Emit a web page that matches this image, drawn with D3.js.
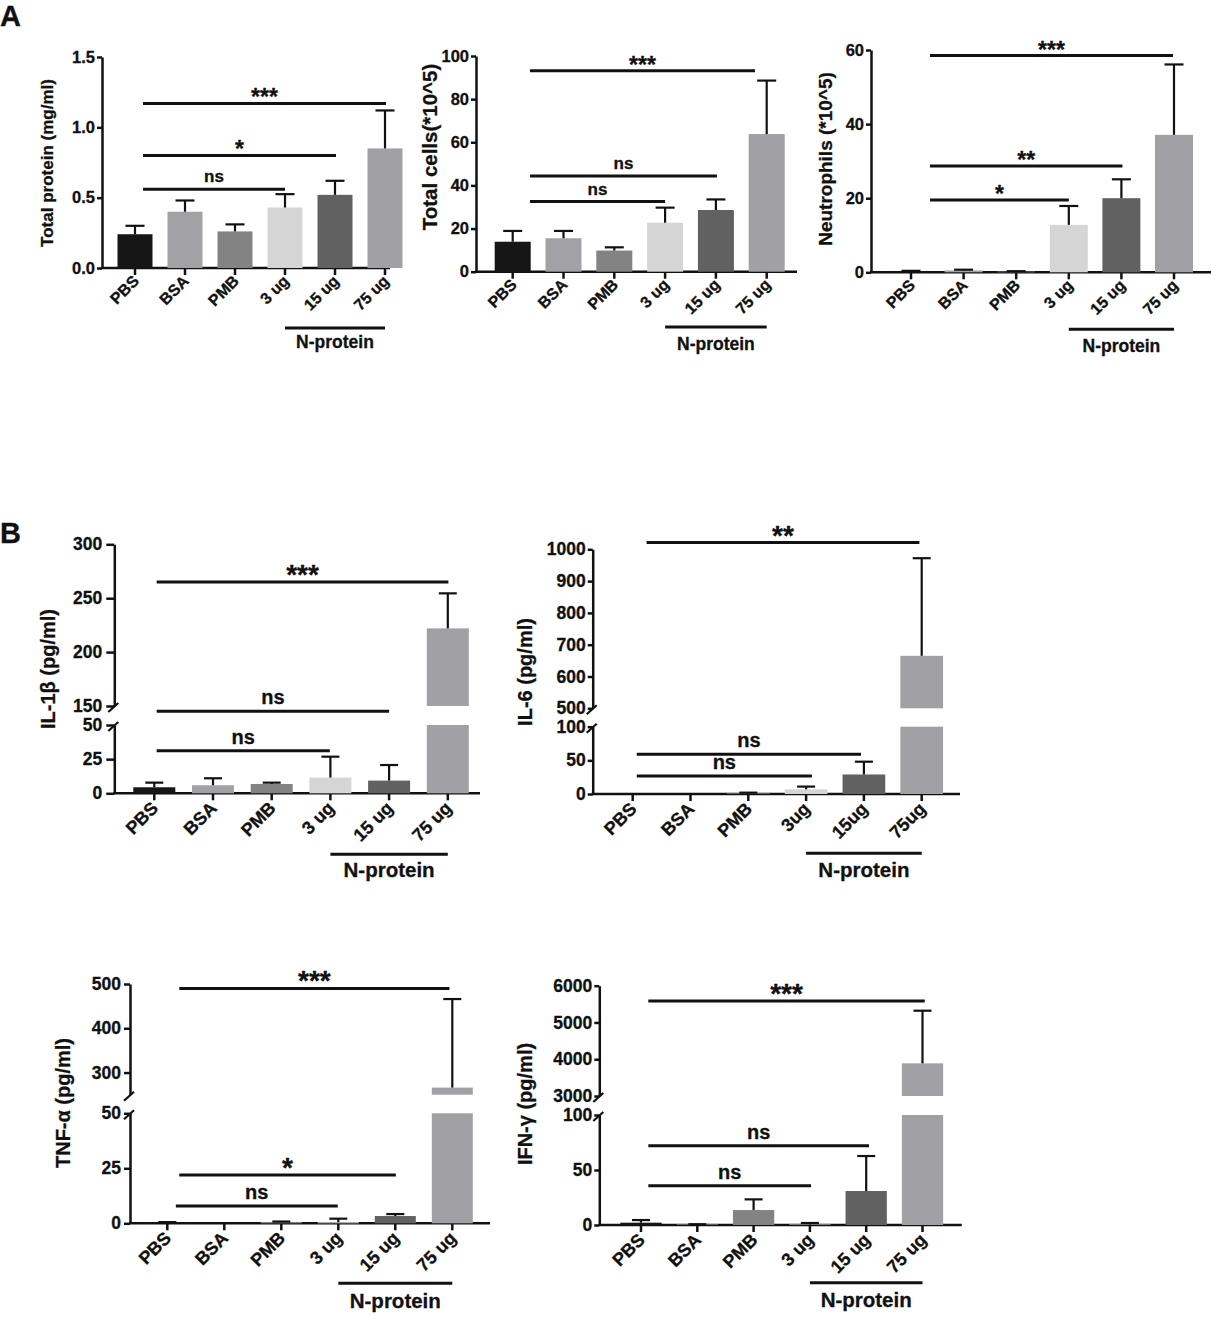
<!DOCTYPE html>
<html>
<head>
<meta charset="utf-8">
<script src="https://cdn.jsdelivr.net/npm/d3@7"></script>
<style>
  body { margin: 0; background: #fff; }
  text { font-family: Arial, "Liberation Sans", sans-serif; font-weight: bold; fill: #111; stroke: #111; stroke-width: 0.3px; }
</style>
</head>
<body>
<svg id="fig" width="1212" height="1319"></svg>
<script>
// ---- data ----
const groupLabels = ["PBS", "BSA", "PMB", "3 ug", "15 ug", "75 ug"];
const groupLabelsIL6 = ["PBS", "BSA", "PMB", "3ug", "15ug", "75ug"];
const nProteinSpan = [3, 5];   // groups underlined as "N-protein"

const totalProteinMean = [0.24, 0.40, 0.26, 0.43, 0.52, 0.85];
const totalProteinSD   = [0.06, 0.08, 0.05, 0.095, 0.10, 0.27];
const totalProteinSig  = [
  { from: 0.16, to: 5.02, y: 1.17, label: "***" },
  { from: 0.16, to: 4.02, y: 0.80, label: "*" },
  { from: 0.16, to: 3.0,  y: 0.56, label: "ns" }
];

const totalCellsMean = [13.9, 15.5, 9.8, 22.7, 28.6, 63.8];
const totalCellsSD   = [5.0, 3.4, 1.5, 7.0, 4.9, 24.8];
const totalCellsSig  = [
  { from: 0.34, to: 4.77, y: 93.2, label: "***" },
  { from: 0.34, to: 4.02, y: 44.4, label: "ns" },
  { from: 0.34, to: 3.0,  y: 32.5, label: "ns" }
];

const neutrophilsMean = [0.3, 0.5, 0.2, 12.8, 20.0, 37.1];
const neutrophilsSD   = [0.1, 0.2, 0.1, 5.1, 5.1, 19.0];
const neutrophilsSig  = [
  { from: 0.36, to: 4.98, y: 58.5, label: "***" },
  { from: 0.36, to: 4.02, y: 28.7, label: "**" },
  { from: 0.36, to: 3.0,  y: 19.5, label: "*" }
];

const il1bMean = [4.4, 5.9, 6.8, 11.5, 9.3, 222];
const il1bSD   = [3.4, 5.1, 1.0, 15.3, 11.4, 32.5];
const il1bSig  = [
  { from: 0.04, to: 5.01, y: 265, label: "***" },
  { from: 0.04, to: 4.0,  y: 122, label: "ns" },
  { from: 0.04, to: 2.99, y: 31.2, label: "ns" }
];

const il6Mean = [0, 0, 1, 7, 29, 665];
const il6SD   = [0, 0, 1, 4, 19, 307];
const il6Sig  = [
  { from: 0.24, to: 4.96, y: 1021, label: "**" },
  { from: 0.07, to: 3.95, y: 59, label: "ns" },
  { from: 0.07, to: 3.1,  y: 26.7, label: "ns" }
];

const tnfMean = [0.45, 0, 0.6, 0.5, 3.3, 266];
const tnfSD   = [0.1, 0, 0.2, 1.6, 0.9, 200];
const tnfSig  = [
  { from: 0.21, to: 4.95, y: 490, label: "***" },
  { from: 0.21, to: 4.01, y: 22, label: "*" },
  { from: 0.15, to: 2.99, y: 7.9, label: "ns" }
];

const ifngMean = [2.1, 0.5, 13.6, 0.5, 30.9, 3888];
const ifngSD   = [2.4, 0.2, 9.7, 1.3, 31.8, 1432];
const ifngSig  = [
  { from: 0.13, to: 5.04, y: 5584, label: "***" },
  { from: 0.13, to: 4.05, y: 72.1, label: "ns" },
  { from: 0.13, to: 3.02, y: 35.7, label: "ns" }
];

// ---- styles ----
const barColors = ["#161616", "#a2a2a6", "#838383", "#d5d5d5", "#616161", "#a0a0a5"];
const ink = "#111";

const svg = d3.select("#fig");

// panel letters
svg.append("text").attr("x", 0).attr("y", 26).style("font-size", "29px").text("A");
svg.append("text").attr("x", 0).attr("y", 543).style("font-size", "29px").text("B");

// font sizes shared by the top row (A) and the cytokine panels (B)
const fontA = { font: 16.5, labelFont: 16, nFont: 17.5, nsFont: 17, starFont: 23, cap: 19, lab: [5, 14] };
const fontB = { font: 17.5, labelFont: 18, nFont: 20.5, nsFont: 20, starFont: 28, cap: 18, lab: [5, 16] };

const panels = [
  { title: "Total protein (mg/ml)", labels: groupLabels, mean: totalProteinMean, sd: totalProteinSD, sig: totalProteinSig,
    domain: [0, 1.5], range: [268, 57], ticks: [0, 0.5, 1, 1.5], fmt: d3.format(".1f"),
    ax: 102, axEnd: 390, c0: 135, step: 50, bw: 35, tickLen: 5, tickPad: 2,
    titleX: 47, titleY: 163, titleSize: 17, nLine: 60, nText: 20, ...fontA },
  { title: "Total cells(*10^5)", labels: groupLabels, mean: totalCellsMean, sd: totalCellsSD, sig: totalCellsSig,
    domain: [0, 100], range: [271.7, 56], ticks: [0, 20, 40, 60, 80, 100], fmt: d3.format("d"),
    ax: 476, axEnd: 797, c0: 512.7, step: 50.8, bw: 36, tickLen: 5, tickPad: 2,
    titleX: 430, titleY: 147, titleSize: 20.5, nLine: 55.3, nText: 23, ...fontA },
  { title: "Neutrophils (*10^5)", labels: groupLabels, mean: neutrophilsMean, sd: neutrophilsSD, sig: neutrophilsSig,
    domain: [0, 60], range: [272.3, 50], ticks: [0, 20, 40, 60], fmt: d3.format("d"),
    ax: 871, axEnd: 1211, c0: 911, step: 52.6, bw: 38, tickLen: 5, tickPad: 2,
    titleX: 825, titleY: 159, titleSize: 19, nLine: 57, nText: 22.4, ...fontA },
  { title: "IL-1\u03b2 (pg/ml)", labels: groupLabels, mean: il1bMean, sd: il1bSD, sig: il1bSig,
    domain: [0, 50, 150, 300], range: [793.3, 725, 706, 544.3], lowTicks: [0, 25, 50], upTicks: [150, 200, 250, 300], fmt: d3.format("d"),
    ax: 114.3, axEnd: 480, c0: 154.3, step: 58.7, bw: 42, tickLen: 8, tickPad: 4,
    titleX: 48, titleY: 669, titleSize: 20, nLine: 61, nText: 22.4, ...fontB },
  { title: "IL-6 (pg/ml)", labels: groupLabelsIL6, mean: il6Mean, sd: il6SD, sig: il6Sig,
    domain: [0, 100, 500, 1000], range: [794, 726.7, 708.3, 549.3], lowTicks: [0, 50, 100], upTicks: [500, 600, 700, 800, 900, 1000], fmt: d3.format("d"),
    ax: 592.7, axEnd: 960, c0: 632.7, step: 57.8, bw: 42.7, tickLen: 5, tickPad: 2,
    titleX: 525, titleY: 672, titleSize: 20, nLine: 59.3, nText: 23.4, ...fontB },
  { title: "TNF-\u03b1 (pg/ml)", labels: groupLabels, mean: tnfMean, sd: tnfSD, sig: tnfSig,
    domain: [0, 50, 250, 500], range: [1223.3, 1113.3, 1094.7, 984], lowTicks: [0, 25, 50], upTicks: [300, 400, 500], fmt: d3.format("d"),
    ax: 130, axEnd: 490, c0: 167.3, step: 57, bw: 41, tickLen: 6, tickPad: 3,
    titleX: 63.3, titleY: 1103, titleSize: 20, nLine: 60, nText: 24.7, ...fontB },
  { title: "IFN-\u03b3 (pg/ml)", labels: groupLabels, mean: ifngMean, sd: ifngSD, sig: ifngSig,
    domain: [0, 100, 3000, 6000], range: [1225, 1115, 1096, 985.7], lowTicks: [0, 50, 100], upTicks: [3000, 4000, 5000, 6000], fmt: d3.format("d"),
    ax: 599.3, axEnd: 961.7, c0: 641, step: 56.3, bw: 41.3, tickLen: 5, tickPad: 2,
    titleX: 525, titleY: 1104, titleSize: 20, nLine: 57.7, nText: 24, ...fontB }
];

function styleAxis(a, p) {
  a.attr("font-size", null).attr("font-family", null);
  a.select(".domain").attr("stroke", ink).attr("stroke-width", 2.5);
  a.selectAll(".tick line").attr("stroke", ink).attr("stroke-width", 2.5);
  a.selectAll(".tick text").style("font-size", p.font + "px");
}

function drawPanel(p) {
  const g = svg.append("g");
  const pi = 1 - p.bw / p.step;
  const x = d3.scaleBand().domain(p.labels)
    .range([p.c0 - p.step / 2, p.c0 + p.step * 5.5])
    .paddingInner(pi).paddingOuter(pi / 2);
  const cx = d => x(d) + x.bandwidth() / 2;
  const xAt = f => cx(p.labels[0]) + f * x.step();

  const y = d3.scaleLinear().domain(p.domain).range(p.range);
  const broken = p.domain.length === 4;
  const y0 = p.range[0];

  // y axis (two segments with break marks when the scale is broken)
  if (!broken) {
    const a = g.append("g").attr("transform", `translate(${p.ax},0)`)
      .call(d3.axisLeft(y).tickValues(p.ticks).tickFormat(p.fmt).tickSize(p.tickLen).tickPadding(p.tickPad).tickSizeOuter(0));
    styleAxis(a, p);
  } else {
    const low = d3.scaleLinear().domain([p.domain[0], p.domain[1]]).range([p.range[0], p.range[1]]);
    const up = d3.scaleLinear().domain([p.domain[2], p.domain[3]]).range([p.range[2], p.range[3]]);
    [[low, p.lowTicks], [up, p.upTicks]].forEach(([s, t]) => {
      const a = g.append("g").attr("transform", `translate(${p.ax},0)`)
        .call(d3.axisLeft(s).tickValues(t).tickFormat(p.fmt).tickSize(p.tickLen).tickPadding(p.tickPad).tickSizeOuter(0));
      styleAxis(a, p);
    });
    [p.range[1], p.range[2]].forEach(yy => {
      g.append("line").attr("x1", p.ax - 6).attr("y1", yy + 6).attr("x2", p.ax + 4).attr("y2", yy - 3)
        .attr("stroke", ink).attr("stroke-width", 2.2);
    });
  }

  // x axis
  g.append("line").attr("x1", p.ax - 1).attr("x2", p.axEnd).attr("y1", y0).attr("y2", y0)
    .attr("stroke", ink).attr("stroke-width", 2.5);
  const xa = g.append("g").attr("transform", `translate(0,${y0})`)
    .call(d3.axisBottom(x).tickSize(7).tickSizeOuter(0));
  xa.attr("font-size", null).attr("font-family", null);
  xa.select(".domain").remove();
  xa.selectAll(".tick line").attr("stroke", ink).attr("stroke-width", 2.5);
  xa.selectAll(".tick text")
    .attr("x", 0).attr("y", 0).attr("dy", null)
    .attr("text-anchor", "end")
    .attr("transform", `translate(${p.lab[0]},${p.lab[1]}) rotate(-45)`)
    .style("font-size", p.labelFont + "px");

  // bars
  p.labels.forEach((lab, i) => {
    const m = p.mean[i];
    if (m <= 0) return;
    const segs = (!broken || m <= p.domain[1]) ? [[0, m]] : [[0, p.domain[1]], [p.domain[2], m]];
    segs.forEach(([a, b]) => {
      g.append("rect").attr("x", x(lab)).attr("width", x.bandwidth())
        .attr("y", y(b)).attr("height", y(a) - y(b))
        .attr("fill", barColors[i]);
    });
  });

  // error bars (upper half only)
  p.labels.forEach((lab, i) => {
    const m = p.mean[i], s = p.sd[i];
    if (s <= 0) return;
    const c = cx(lab);
    g.append("line").attr("x1", c).attr("x2", c).attr("y1", y(m)).attr("y2", y(m + s))
      .attr("stroke", ink).attr("stroke-width", 2.2);
    g.append("line").attr("x1", c - p.cap / 2).attr("x2", c + p.cap / 2).attr("y1", y(m + s)).attr("y2", y(m + s))
      .attr("stroke", ink).attr("stroke-width", 2.2);
  });

  // significance brackets
  p.sig.forEach(s => {
    const yy = y(s.y);
    g.append("line").attr("x1", xAt(s.from)).attr("x2", xAt(s.to)).attr("y1", yy).attr("y2", yy)
      .attr("stroke", ink).attr("stroke-width", 3);
    const stars = s.label !== "ns";
    g.append("text").attr("x", (xAt(s.from) + xAt(s.to)) / 2)
      .attr("y", stars ? yy + 2 : yy - 7)
      .attr("text-anchor", "middle")
      .style("font-size", (stars ? p.starFont : p.nsFont) + "px")
      .text(s.label);
  });

  // N-protein group
  const n1 = xAt(nProteinSpan[0]), n2 = xAt(nProteinSpan[1]);
  g.append("line").attr("x1", n1).attr("x2", n2).attr("y1", y0 + p.nLine).attr("y2", y0 + p.nLine)
    .attr("stroke", ink).attr("stroke-width", 3);
  g.append("text").attr("x", (n1 + n2) / 2).attr("y", y0 + p.nLine + p.nText)
    .attr("text-anchor", "middle").style("font-size", p.nFont + "px").text("N-protein");

  // y title
  g.append("text").attr("transform", `translate(${p.titleX},${p.titleY}) rotate(-90)`)
    .attr("text-anchor", "middle").attr("dy", "0.35em")
    .style("font-size", p.titleSize + "px").text(p.title);
}

panels.forEach(drawPanel);
</script>
</body>
</html>
